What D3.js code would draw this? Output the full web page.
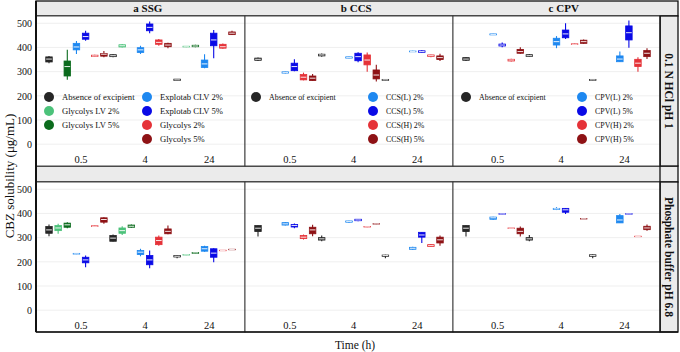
<!DOCTYPE html>
<html>
<head>
<meta charset="utf-8">
<script src="https://cdn.jsdelivr.net/npm/d3@7"></script>
<style>
  body { margin: 0; background: #fff; }
  text { font-family: "Liberation Serif", "Times New Roman", serif; fill: #111; }
</style>
</head>
<body>
<div id="chart"></div>
<script>
const times = ["0.5", "4", "24"];
const panelTitles = ["a SSG", "b CCS", "c CPV"];
const media = ["0.1 N HCl pH 1", "Phosphate buffer pH 6.8"];
const yTicks = [0, 100, 200, 300, 400, 500];

const ssgNames = ["Absence of excipient", "Glycolys LV 2%", "Glycolys LV 5%", "Explotab CLV 2%", "Explotab CLV 5%", "Glycolys 2%", "Glycolys 5%"];
const ccsNames = ["Absence of excipient", "CCS(L) 2%", "CCS(L) 5%", "CCS(H) 2%", "CCS(H) 5%"];
const cpvNames = ["Absence of excipient", "CPV(L) 2%", "CPV(L) 5%", "CPV(H) 2%", "CPV(H) 5%"];
// slot (0..6) inside each time group, and colour of that slot
const ssgSlots = [0, 1, 2, 3, 4, 5, 6];
const otherSlots = [0, 3, 4, 5, 6];
const slotColors = ["#262626", "#4cc27a", "#0b6b1d", "#1e88f0", "#0a0ae6", "#e53238", "#8e1215"];

// box stats [low whisker, q1, median, q3, high whisker], per time, per series
const ssgHCl = [
  [[335,340,352,361,365], null, [266,282,321,344,390], [373,390,402,417,427], [428,434,445,459,469], [361,363,365,368,370], [360,364,372,375,385]],
  [[360,362,366,370,372], [400,402,407,411,413], null, [373,379,390,399,407], [459,469,483,497,507], [407,413,421,431,435], [397,403,410,417,419]],
  [[262,263,266,269,270], [401,402,403,405,406], [401,403,406,409,411], [314,317,332,348,372], [355,407,431,459,472], [395,397,403,413,416], [451,453,459,464,469]]
];
const ssgPhos = [
  [[306,318,332,346,354], [316,329,340,350,357], [339,343,353,360,364], [231,232,233,235,236], [178,196,208,219,226], [345,346,347,349,350], [357,364,375,382,384]],
  [[284,285,298,309,313], [311,318,329,340,347], [341,343,347,352,354], [223,230,240,247,254], [174,188,208,226,247], [267,271,288,302,309], [314,316,326,336,350]],
  [[215,220,223,226,228], [227,228,229,230,231], [234,235,237,239,240], [242,244,254,263,267], [198,219,236,254,256], [245,246,247,248,249], [249,250,251,252,253]]
];
const ccsHCl = [
  [[344,347,351,356,358], [292,294,296,299,300], [302,304,321,335,351], [264,266,277,288,296], [262,263,273,282,290]],
  [[362,365,369,372,375], [355,356,358,361,362], [339,345,362,376,380], [300,328,348,369,379], [259,270,286,307,328]],
  [[263,264,266,268,269], [381,382,383,385,386], [379,380,383,386,388], [359,363,366,369,370], [344,350,358,365,374]]
];
const ccsPhos = [
  [[305,325,339,350,350], [350,352,357,362,364], [339,344,350,354,358], [292,296,302,309,313], [306,316,332,343,353]],
  [[285,290,295,300,309], [362,364,367,369,370], [368,370,373,376,377], [343,344,345,346,347], [355,356,357,358,359]],
  [[215,223,226,228,229], [250,252,256,260,262], [278,302,311,322,322], [261,263,267,271,273], [267,278,291,302,309]]
];
const cpvHCl = [
  [[344,347,352,358,360], [451,452,454,456,457], [401,406,410,414,420], [342,344,348,351,353], [374,376,383,392,401]],
  [[362,363,366,370,372], [397,410,424,438,447], [435,440,456,472,500], [411,412,413,415,416], [415,417,424,430,433]],
  [[262,264,266,268,270], [341,341,352,365,383], [399,431,461,489,511], [300,321,335,351,359], [352,362,376,387,397]]
];
const cpvPhos = [
  [[305,325,339,350,350], [374,376,382,385,386], [397,397,398,399,399], [338,338,339,340,340], [305,316,326,339,346]],
  [[285,290,295,300,311], [414,416,419,421,426], [398,405,415,421,422], null, [377,377,378,379,379]],
  [[215,223,226,229,230], [361,361,373,391,398], [397,397,398,399,399], [304,304,305,306,306], [329,333,340,347,354]]
];

const width = 680, height = 352;
const panels = [
  {title: panelTitles[0], x0: 36, x1: 245, names: ssgNames, slots: ssgSlots, stats: [ssgHCl, ssgPhos], leg: {c1: 13, c2: 111, fs: 8.6, col1: 3}},
  {title: panelTitles[1], x0: 245, x1: 453, names: ccsNames, slots: otherSlots, stats: [ccsHCl, ccsPhos], leg: {c1: 11, c2: 128, fs: 7.9, col1: 1}},
  {title: panelTitles[2], x0: 453, x1: 660, names: cpvNames, slots: otherSlots, stats: [cpvHCl, cpvPhos], leg: {c1: 13, c2: 129, fs: 7.9, col1: 1}}
];
const rows = [{y0: 16, y1: 166}, {y0: 182, y1: 332}];
const stripRight = 678, boxW = 6.5;

const svg = d3.select("#chart")
  .append("svg")
  .attr("width", width)
  .attr("height", height);

// strips
svg.append("rect").attr("x", 36).attr("y", 1).attr("width", stripRight - 36).attr("height", 15)
  .attr("fill", "#ebebeb").attr("stroke", "#111").attr("stroke-width", 1.3);
svg.append("rect").attr("x", 36).attr("y", 166).attr("width", stripRight - 36).attr("height", 16)
  .attr("fill", "#ebebeb").attr("stroke", "#111").attr("stroke-width", 1.3);
rows.forEach((r, ri) => {
  svg.append("rect").attr("x", 660).attr("y", r.y0).attr("width", stripRight - 660).attr("height", r.y1 - r.y0)
    .attr("fill", "#ebebeb").attr("stroke", "#111").attr("stroke-width", 1.3);
  svg.append("text")
    .attr("transform", `translate(669,${(r.y0 + r.y1) / 2}) rotate(90)`)
    .attr("text-anchor", "middle")
    .attr("dy", "0.35em")
    .attr("font-size", 11.5)
    .attr("font-weight", "bold")
    .text(media[ri]);
});

panels.forEach((p, pi) => {
  const x = d3.scaleLinear([0, 20], [p.x0 + 13, p.x1 - 13]);

  svg.append("text")
    .attr("x", x(10.8))
    .attr("y", 8.5)
    .attr("dy", "0.35em")
    .attr("text-anchor", "middle")
    .attr("font-size", 11)
    .attr("font-weight", "bold")
    .text(p.title);

  rows.forEach((r, ri) => {
    const y = d3.scaleLinear([-90, 530], [r.y1, r.y0]);
    const g = svg.append("g");

    g.append("rect").attr("x", p.x0).attr("y", r.y0).attr("width", p.x1 - p.x0).attr("height", r.y1 - r.y0)
      .attr("fill", "#fff");

    g.selectAll(".grid")
      .data(yTicks)
      .join("line")
      .attr("x1", p.x0).attr("x2", p.x1)
      .attr("y1", d => y(d)).attr("y2", d => y(d))
      .attr("stroke", "#ebebeb")
      .attr("stroke-width", 0.8);

    if (pi === 0) {
      svg.append("g")
        .attr("transform", `translate(${p.x0},0)`)
        .call(d3.axisLeft(y).tickValues(yTicks).tickSize(0).tickPadding(4))
        .call(a => a.select(".domain").remove())
        .call(a => a.selectAll("text").attr("font-size", 10).attr("font-family", "Liberation Serif").attr("fill", "#222"));
    }

    g.selectAll(".tlab")
      .data(times)
      .join("text")
      .attr("x", (d, i) => x(i * 7 + 3.5))
      .attr("y", y(-62))
      .attr("dy", "0.35em")
      .attr("text-anchor", "middle")
      .attr("font-size", 10.5)
      .text(d => d);

    const boxes = [];
    p.stats[ri].forEach((tt, ti) => {
      tt.forEach((s, si) => {
        if (s) boxes.push({slot: ti * 7 + p.slots[si], color: slotColors[p.slots[si]], s: s});
      });
    });

    const bg = g.selectAll(".box")
      .data(boxes)
      .join("g");
    bg.append("line")
      .attr("x1", d => x(d.slot)).attr("x2", d => x(d.slot))
      .attr("y1", d => y(d.s[0])).attr("y2", d => y(d.s[4]))
      .attr("stroke", d => d.color)
      .attr("stroke-width", 1.1);
    bg.append("rect")
      .attr("x", d => x(d.slot) - boxW / 2)
      .attr("y", d => y(d.s[3]))
      .attr("width", boxW)
      .attr("height", d => Math.max(0.5, y(d.s[1]) - y(d.s[3])))
      .attr("fill", d => d.color)
      .attr("stroke", d => d.color)
      .attr("stroke-width", 0.8);
    bg.append("line")
      .attr("x1", d => x(d.slot) - boxW / 2 + 0.4).attr("x2", d => x(d.slot) + boxW / 2 - 0.4)
      .attr("y1", d => y(d.s[2])).attr("y2", d => y(d.s[2]))
      .attr("stroke", "#fff")
      .attr("stroke-width", 0.9);

    // legend in the upper row
    if (ri === 0) {
      const leg = g.selectAll(".leg")
        .data(p.names)
        .join("g")
        .attr("transform", (d, i) => {
          const col = i < p.leg.col1 ? 0 : 1;
          const row = col === 0 ? i : i - p.leg.col1;
          return `translate(${p.x0 + (col ? p.leg.c2 : p.leg.c1)},${97 + row * 14})`;
        });
      leg.append("circle")
        .attr("r", 5)
        .attr("fill", (d, i) => slotColors[p.slots[i]]);
      leg.append("text")
        .attr("x", 13)
        .attr("dy", "0.35em")
        .attr("font-size", p.leg.fs)
        .text(d => d);
    }

    g.append("rect").attr("x", p.x0).attr("y", r.y0).attr("width", p.x1 - p.x0).attr("height", r.y1 - r.y0)
      .attr("fill", "none").attr("stroke", "#333").attr("stroke-width", 0.9);
  });
});

// outer frame lines
svg.append("line").attr("x1", 36).attr("x2", 36).attr("y1", 1).attr("y2", 332).attr("stroke", "#111").attr("stroke-width", 2);
svg.append("line").attr("x1", 36).attr("x2", stripRight).attr("y1", 332).attr("y2", 332).attr("stroke", "#111").attr("stroke-width", 1.5);
svg.append("line").attr("x1", 660).attr("x2", 660).attr("y1", 16).attr("y2", 332).attr("stroke", "#111").attr("stroke-width", 1.3);

svg.append("text")
  .attr("transform", "rotate(-90)")
  .attr("x", -176)
  .attr("y", 9)
  .attr("dy", "0.35em")
  .attr("text-anchor", "middle")
  .attr("font-size", 13)
  .text("CBZ solubility (μg/mL)");

svg.append("text")
  .attr("x", 355)
  .attr("y", 345)
  .attr("dy", "0.35em")
  .attr("text-anchor", "middle")
  .attr("font-size", 11.5)
  .text("Time (h)");
</script>
</body>
</html>
